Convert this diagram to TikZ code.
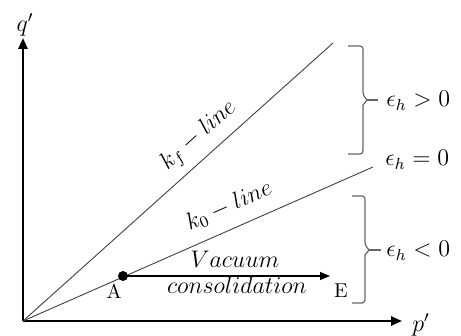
\documentclass[tikz,border=0pt]{standalone}
\usetikzlibrary{arrows.meta}
\begin{document}
\begin{tikzpicture}[x=0.5pt,y=-0.5pt,
  axis/.style={line width=1.1pt,-{Triangle[length=5.5pt,width=4.6pt]}},
  ray/.style={line width=0.45pt,draw=black!75},
  flow/.style={line width=0.55pt,-{Triangle[length=5pt,width=4pt]}},
  brc/.style={line width=0.6pt,draw=black!60,rounded corners=1.5pt},
  lbl/.style={inner sep=0pt,font=\fontsize{11.5}{14}\selectfont},
  txt/.style={inner sep=0pt,font=\fontsize{10}{12}\selectfont},
  elbl/.style={inner sep=0pt,anchor=west,font=\fontsize{12}{14}\selectfont},
  dotnode/.style={circle,fill=black,inner sep=0pt,minimum size=5pt}]
\useasboundingbox (0,0) rectangle (461,336);
% axes
\coordinate (O) at (23,321);
\coordinate (Y) at (23,38);
\coordinate (X) at (402,321);
\draw[axis] (O) -- (Y);
\draw[axis] (O) -- (X);
\node[lbl] (q) at (25,25) {$q'$};
\node[lbl] (p) at (421,325) {$p'$};
% lines
\coordinate (F) at (333,43);
\coordinate (K) at (373,167);
\draw[ray] (O) -- (F);
\draw[ray] (O) -- (K);
\node[lbl,rotate=41.8] (kf) at (199,136) {$k_f - line$};
\node[lbl,rotate=23.8] (k0) at (229,206) {$k_0 - line$};
% point A and path to E
\node[dotnode] (A) at (123,276) {};
\coordinate (Etip) at (330,276);
\draw[flow] (A.center) -- (Etip);
\node[txt] (Alab) at (114,291) {A};
\node[txt] (Elab) at (341,291) {E};
\node[lbl] (vac) at (235,259) {$Vacuum$};
\node[lbl] (con) at (237,285) {$consolidation$};
% braces
\draw[brc] (348,46) -- (363,46) -- (363,95) [sharp corners] -- (367,100) -- (363,105) [rounded corners=1.5pt] -- (363,154) -- (348,154);
\draw[brc] (367,100) -- (378,100);
\draw[brc] (352,196) -- (365,196) -- (365,245) [sharp corners] -- (369,250) -- (365,255) [rounded corners=1.5pt] -- (365,303) -- (352,303);
\draw[brc] (369,250) -- (381,250);
% epsilon labels
\node[elbl] (e1) at (386,101) {$\epsilon_h > 0$};
\node[elbl] (e2) at (385,160) {$\epsilon_h = 0$};
\node[elbl] (e3) at (386,251) {$\epsilon_h < 0$};
\end{tikzpicture}
\end{document}
